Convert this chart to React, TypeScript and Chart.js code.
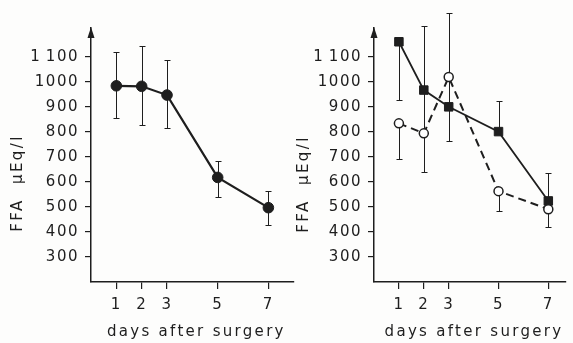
import React, { useEffect, useRef } from "react";
import { Chart, registerables } from "chart.js";

Chart.register(...registerables);

// ---- data ----
const days = [1, 2, 3, 5, 7];
const xTickValues = [1, 2, 3, 5, 7];
const yTickValues = [300, 400, 500, 600, 700, 800, 900, 1000, 1100];
const yTickLabels = ["300", "400", "500", "600", "700", "800", "900", "1000", "1\u2009100"];
const yTitle = "FFA  \u03bcEq/l";
const xTitle = "days after surgery";

// left panel: all patients
const leftMean = [984, 982, 947, 618, 497];
const leftHi = [1120, 1143, 1087, 685, 565];
const leftLo = [857, 828, 817, 541, 429];

// right panel: filled squares
const squareMean = [1160, 967, 900, 801, 524];
const squareHi = [null, 1222, 1019, 924, 637];
const squareLo = [928, null, 765, null, null];

// right panel: open circles
const circleMean = [834, 794, 1019, 563, 491];
const circleHi = [null, 967, 1275, null, null];
const circleLo = [690, 640, null, 485, 420];

const FONT = "'DejaVu Sans', sans-serif";
const INK = "#1e1e1e";

type ErrSet = { mean: number[]; hi: (number | null)[]; lo: (number | null)[] };

function makePlugin(errs: ErrSet[], titleX: number, titleY: number) {
  return {
    id: "panelDecor",
    beforeDraw(chart: any) {
      chart.ctx.letterSpacing = "1.5px";
    },
    beforeDatasetsDraw(chart: any) {
      const { ctx } = chart;
      const xs = chart.scales.x;
      const ys = chart.scales.y;
      ctx.save();
      ctx.strokeStyle = INK;
      ctx.lineWidth = 1;
      errs.forEach((e) => {
        days.forEach((d, i) => {
          const px = Math.round(xs.getPixelForValue(d)) + 0.5;
          const py0 = ys.getPixelForValue(e.mean[i]);
          [e.hi[i], e.lo[i]].forEach((v) => {
            if (v == null) return;
            const py1 = Math.round(ys.getPixelForValue(v)) + 0.5;
            ctx.beginPath();
            ctx.moveTo(px, py0);
            ctx.lineTo(px, py1);
            ctx.moveTo(px - 3, py1);
            ctx.lineTo(px + 3, py1);
            ctx.stroke();
          });
        });
      });
      ctx.restore();
    },
    afterDraw(chart: any) {
      const { ctx, chartArea } = chart;
      ctx.save();
      // arrow head on the y axis
      const ax = chartArea.left;
      const top = chartArea.top;
      ctx.fillStyle = INK;
      ctx.beginPath();
      ctx.moveTo(ax, top - 1);
      ctx.lineTo(ax - 3.5, top + 10);
      ctx.lineTo(ax + 3.5, top + 10);
      ctx.closePath();
      ctx.fill();
      // axis titles
      ctx.font = `15px ${FONT}`;
      ctx.fillStyle = INK;
      ctx.letterSpacing = "2.3px";
      ctx.textAlign = "center";
      ctx.textBaseline = "alphabetic";
      ctx.fillText(xTitle, (chartArea.left + chartArea.right) / 2 + 4, 336);
      ctx.letterSpacing = "2.4px";
      ctx.translate(titleX, titleY);
      ctx.rotate(-Math.PI / 2);
      ctx.fillText(yTitle, 0, 0);
      ctx.restore();
    },
  };
}

function makeConfig(
  datasets: any[],
  errs: ErrSet[],
  yWidth: number,
  xMax: number,
  titleX: number,
  titleY: number,
  padRight: number
): any {
  return {
    type: "line",
    data: { datasets },
    options: {
      responsive: false,
      animation: false,
      devicePixelRatio: 1,
      layout: { padding: { top: 28, right: padRight, left: 0, bottom: 0 } },
      plugins: { legend: { display: false }, tooltip: { enabled: false } },
      scales: {
        x: {
          type: "linear",
          min: 0,
          max: xMax,
          afterBuildTicks: (s: any) => {
            s.ticks = xTickValues.map((v) => ({ value: v }));
          },
          afterFit: (s: any) => {
            s.height = 61;
          },
          grid: {
            display: true,
            drawOnChartArea: false,
            drawTicks: true,
            tickLength: 7,
            color: INK,
            lineWidth: 1.2,
          },
          border: { display: true, color: INK, width: 1.5 },
          ticks: {
            padding: 7,
            color: INK,
            font: { family: FONT, size: 15 },
            maxRotation: 0,
            callback: (v: any) => String(v),
          },
        },
        y: {
          type: "linear",
          min: 200,
          max: 1215,
          afterBuildTicks: (s: any) => {
            s.ticks = yTickValues.map((v) => ({ value: v }));
          },
          afterFit: (s: any) => {
            s.width = yWidth;
          },
          grid: {
            display: true,
            drawOnChartArea: false,
            drawTicks: true,
            tickLength: 6,
            color: INK,
            lineWidth: 1.2,
          },
          border: { display: true, color: INK, width: 1.5 },
          ticks: {
            padding: 6,
            color: INK,
            font: { family: FONT, size: 15 },
            callback: (v: any) => {
              const i = yTickValues.indexOf(v);
              return i >= 0 ? yTickLabels[i] : "";
            },
          },
        },
      },
    },
    plugins: [makePlugin(errs, titleX, titleY)],
  };
}

function toPoints(vals: number[]) {
  return days.map((d, i) => ({ x: d, y: vals[i] }));
}

export default function App() {
  const leftRef = useRef<HTMLCanvasElement | null>(null);
  const rightRef = useRef<HTMLCanvasElement | null>(null);

  useEffect(() => {
    const left = new Chart(
      leftRef.current as HTMLCanvasElement,
      makeConfig(
        [
          {
            data: toPoints(leftMean),
            borderColor: INK,
            borderWidth: 2.2,
            pointStyle: "circle",
            pointRadius: 5.3,
            pointBackgroundColor: INK,
            pointBorderColor: INK,
            pointBorderWidth: 1,
            tension: 0,
          },
        ],
        [{ mean: leftMean, hi: leftHi, lo: leftLo }],
        91,
        8,
        22,
        183,
        2
      )
    );
    const right = new Chart(
      rightRef.current as HTMLCanvasElement,
      makeConfig(
        [
          {
            data: toPoints(circleMean),
            borderColor: INK,
            borderWidth: 2,
            borderDash: [8, 5],
            pointStyle: "circle",
            pointRadius: 4.5,
            pointBackgroundColor: "#ffffff",
            pointBorderColor: INK,
            pointBorderWidth: 1.5,
            tension: 0,
          },
          {
            data: toPoints(squareMean),
            borderColor: INK,
            borderWidth: 1.8,
            pointStyle: "rect",
            pointRadius: 6,
            pointBackgroundColor: INK,
            pointBorderColor: INK,
            pointBorderWidth: 1,
            tension: 0,
          },
        ],
        [
          { mean: squareMean, hi: squareHi, lo: squareLo },
          { mean: circleMean, hi: circleHi, lo: circleLo },
        ],
        84,
        7.71,
        18,
        184,
        0
      )
    );
    return () => {
      left.destroy();
      right.destroy();
    };
  }, []);

  return (
    <div
      style={{
        position: "fixed",
        left: 0,
        top: 0,
        width: 573,
        height: 343,
        background: "#fdfdfc",
        overflow: "hidden",
      }}
    >
      <canvas
        ref={leftRef}
        width={300}
        height={343}
        style={{ position: "absolute", left: 0, top: 0, width: 300, height: 343 }}
      />
      <canvas
        ref={rightRef}
        width={283}
        height={343}
        style={{ position: "absolute", left: 290, top: 0, width: 283, height: 343 }}
      />
    </div>
  );
}
